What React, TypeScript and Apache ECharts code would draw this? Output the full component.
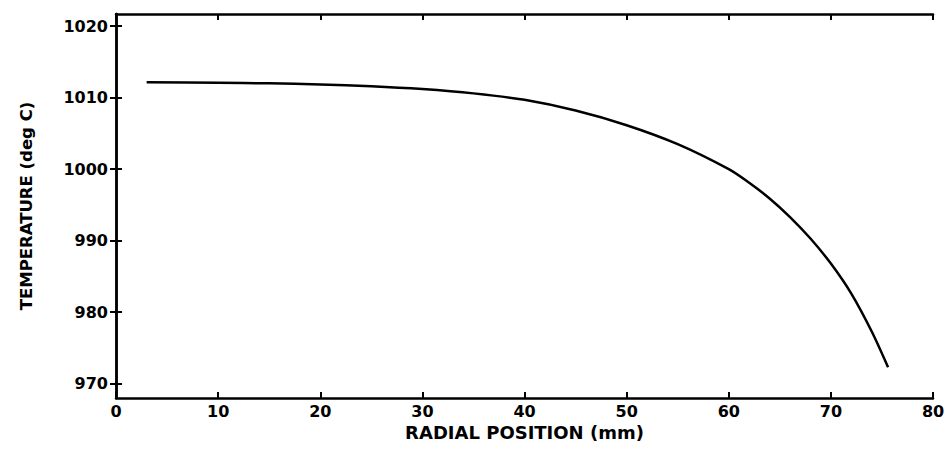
import React, { useEffect, useRef } from "react";
import * as echarts from "echarts";

// Radial position (mm)
const radialPosition = [3, 10, 15, 20, 25, 30, 35, 40, 45, 50, 55, 60, 62, 64, 66, 68, 70, 72, 74, 75.6];
// Temperature (deg C)
const temperature = [
  1012.15, 1012.08, 1012.0, 1011.85, 1011.6, 1011.2, 1010.6, 1009.7, 1008.2, 1006.15,
  1003.5, 1000.0, 998.1, 995.9, 993.3, 990.3, 986.8, 982.6, 977.3, 972.3,
];
const yTickValues = [970, 980, 990, 1000, 1010, 1020];
const xTitle = "RADIAL POSITION (mm)";
const yTitle = "TEMPERATURE (deg C)";

const FONT = "DejaVu Sans";

export default function App() {
  const ref = useRef<HTMLDivElement>(null);
  useEffect(() => {
    if (!ref.current) return;
    const chart = echarts.init(ref.current, null, { renderer: "svg" });
    const axisLine = { show: true, lineStyle: { color: "#000", width: 2.5 } };
    const tick = { show: true, inside: true, length: 6, lineStyle: { color: "#000", width: 2 } };
    const label = {
      color: "#000",
      fontFamily: FONT,
      fontWeight: "bold" as const,
      fontSize: 16,
      formatter: (v: number) => String(v),
    };
    chart.setOption({
      animation: false,
      backgroundColor: "#fff",
      grid: { left: 108, right: 11, top: 6, bottom: 44, containLabel: false, outerBoundsMode: "none" },
      xAxis: [
        {
          type: "value",
          min: 0,
          max: 80,
          interval: 10,
          position: "bottom",
          axisLine,
          axisTick: tick,
          axisLabel: { ...label, margin: 5 },
          splitLine: { show: false },
          name: xTitle,
          nameLocation: "middle",
          nameGap: 17,
          nameTextStyle: { color: "#000", fontFamily: FONT, fontWeight: "bold", fontSize: 18 },
        },
        {
          type: "value",
          min: 0,
          max: 80,
          interval: 10,
          position: "top",
          axisLine,
          axisTick: tick,
          axisLabel: { show: false },
          splitLine: { show: false },
        },
      ],
      yAxis: [
        {
          type: "value",
          min: 968,
          max: 1021.7,
          position: "left",
          axisLine,
          axisTick: { ...tick, customValues: yTickValues },
          axisLabel: { ...label, margin: 8, customValues: yTickValues },
          splitLine: { show: false },
          name: yTitle,
          nameLocation: "middle",
          nameGap: 81,
          nameRotate: 90,
          nameTextStyle: { color: "#000", fontFamily: FONT, fontWeight: "bold", fontSize: 16.5 },
        },
        {
          type: "value",
          min: 968,
          max: 1021.7,
          position: "right",
          axisLine,
          axisTick: { ...tick, customValues: yTickValues },
          axisLabel: { show: false, customValues: yTickValues },
          splitLine: { show: false },
        },
      ],
      series: [
        {
          type: "line",
          xAxisIndex: 0,
          yAxisIndex: 0,
          data: radialPosition.map((x, i) => [x, temperature[i]]),
          smooth: 0.3,
          showSymbol: false,
          lineStyle: { color: "#000", width: 2.5 },
        },
      ],
    });
    return () => chart.dispose();
  }, []);
  return <div ref={ref} style={{ width: 936, height: 434 }} />;
}
